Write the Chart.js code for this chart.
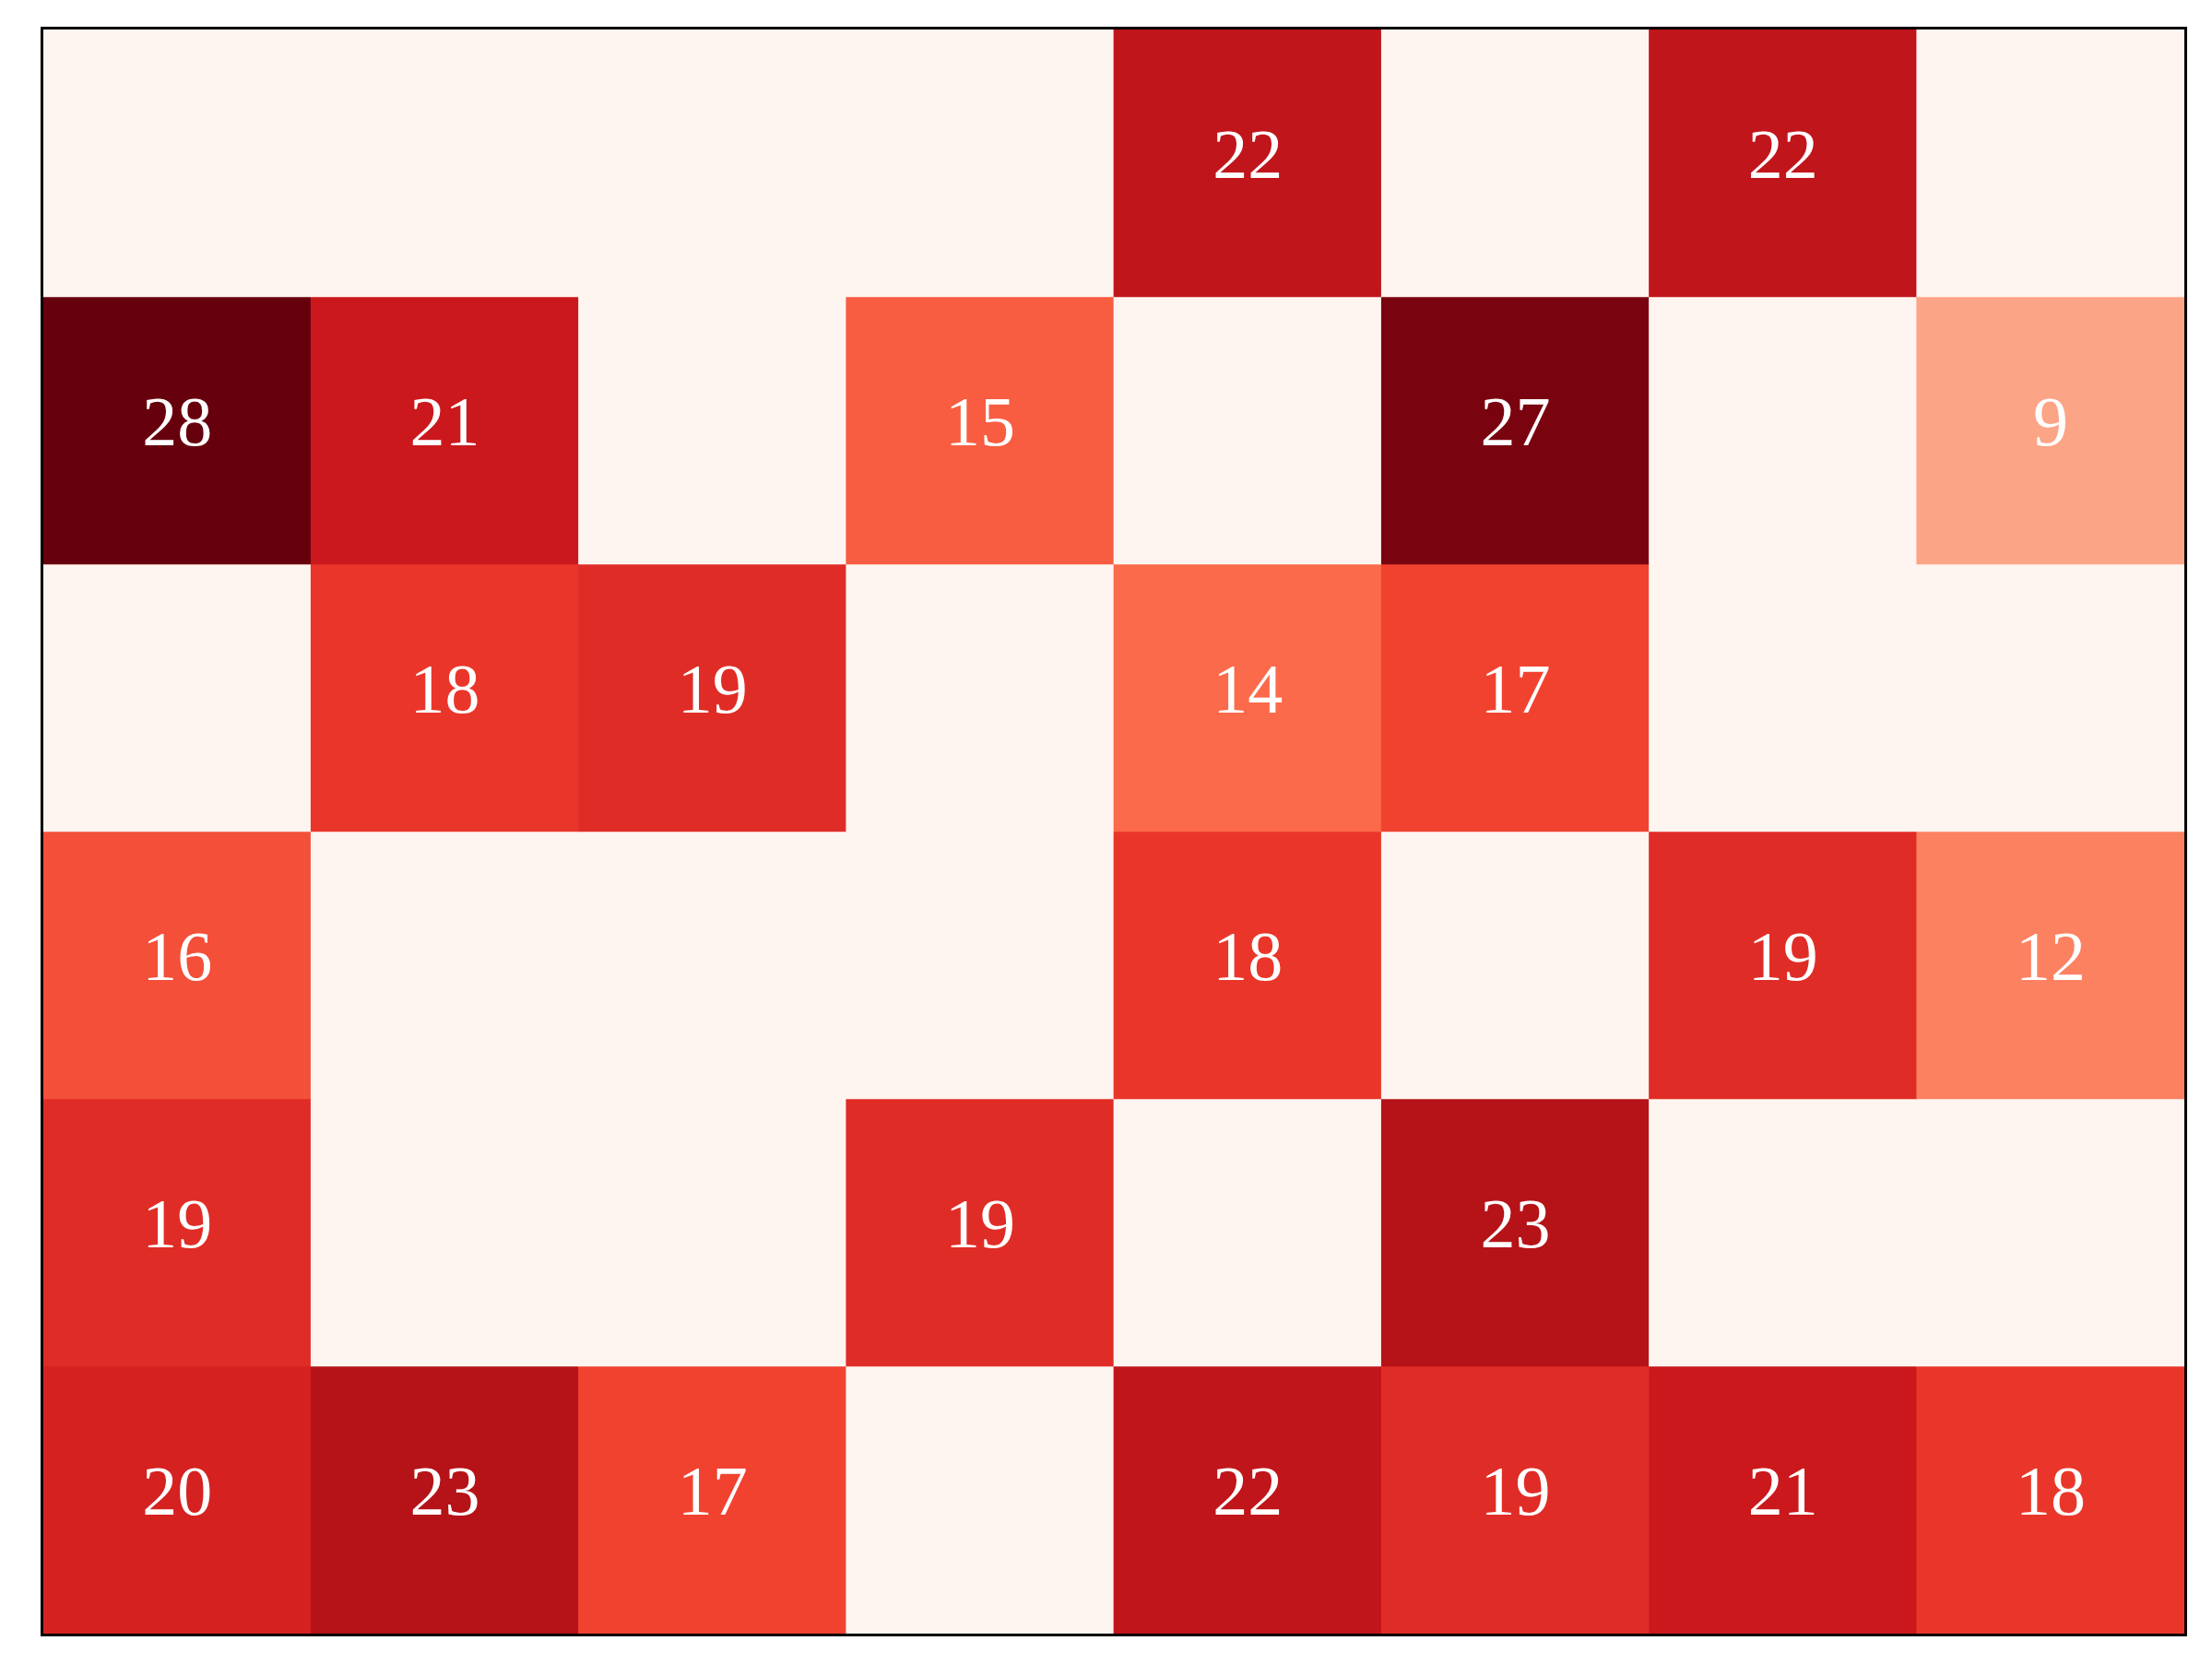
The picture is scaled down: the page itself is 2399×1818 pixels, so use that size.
<!DOCTYPE html>
<html>
<head>
<meta charset="utf-8">
<script src="https://cdn.jsdelivr.net/npm/chart.js@4"></script>
<style>
  body { margin: 0; background: #fff; }
  canvas { display: block; }
</style>
</head>
<body>
<canvas id="heatmap" width="2399" height="1818"></canvas>
<script>
// columns and rows of the grid, rows listed top to bottom
const columns = ['0', '1', '2', '3', '4', '5', '6', '7'];
const rows = ['0', '1', '2', '3', '4', '5'];

// cell values per row (0 = empty cell, no label)
const row0 = [0, 0, 0, 0, 22, 0, 22, 0];
const row1 = [28, 21, 0, 15, 0, 27, 0, 9];
const row2 = [0, 18, 19, 0, 14, 17, 0, 0];
const row3 = [16, 0, 0, 0, 18, 0, 19, 12];
const row4 = [19, 0, 0, 19, 0, 23, 0, 0];
const row5 = [20, 23, 17, 0, 22, 19, 21, 18];
const values = [row0, row1, row2, row3, row4, row5];

const vmin = 0;
const vmax = 28;

// matplotlib "Reds"
const reds = ['#fff5f0', '#fee0d2', '#fcbba1', '#fc9272', '#fb6a4a', '#ef3b2c', '#cb181d', '#a50f15', '#67000d'];

function hexRgb(h) {
  return [parseInt(h.slice(1, 3), 16), parseInt(h.slice(3, 5), 16), parseInt(h.slice(5, 7), 16)];
}

function redsColor(v) {
  let t = (v - vmin) / (vmax - vmin);
  t = Math.max(0, Math.min(1, t));
  const pos = t * (reds.length - 1);
  const i = Math.min(Math.floor(pos), reds.length - 2);
  const f = pos - i;
  const a = hexRgb(reds[i]);
  const b = hexRgb(reds[i + 1]);
  const c = a.map((x, k) => Math.round(x + (b[k] - x) * f));
  return 'rgb(' + c.join(',') + ')';
}

const datasets = rows.map((r, i) => ({
  label: r,
  data: columns.map(() => 1),
  cellValues: values[i],
  backgroundColor: values[i].map(redsColor),
  borderWidth: 0,
  barPercentage: 1,
  categoryPercentage: 1
}));

const cellLabels = {
  id: 'cellLabels',
  afterDatasetsDraw(chart) {
    const ctx = chart.ctx;
    ctx.save();
    ctx.fillStyle = '#ffffff';
    ctx.font = '76px "Liberation Serif", "Times New Roman", serif';
    ctx.textAlign = 'center';
    ctx.textBaseline = 'middle';
    chart.data.datasets.forEach((ds, i) => {
      const meta = chart.getDatasetMeta(i);
      meta.data.forEach((bar, j) => {
        const v = ds.cellValues[j];
        if (!v) return;
        const p = bar.getProps(['x', 'y', 'base'], true);
        ctx.fillText(String(v), p.x, (p.y + p.base) / 2 - 4);
      });
    });
    ctx.restore();
  }
};

const frame = {
  id: 'frame',
  afterDraw(chart) {
    const a = chart.chartArea;
    const ctx = chart.ctx;
    ctx.save();
    ctx.strokeStyle = '#000';
    ctx.lineWidth = 3;
    ctx.strokeRect(a.left - 1.5, a.top - 1.5, a.right - a.left + 3, a.bottom - a.top + 3);
    ctx.restore();
  }
};

function draw() {
  const ctx = document.getElementById('heatmap').getContext('2d');
  new Chart(ctx, {
    type: 'bar',
    data: { labels: columns, datasets: datasets },
    options: {
      responsive: false,
      animation: false,
      layout: { padding: { left: 47, top: 32, right: 30, bottom: 46 } },
      plugins: {
        legend: { display: false },
        tooltip: { enabled: false }
      },
      scales: {
        x: { stacked: true, display: false, offset: true },
        y: { stacked: true, display: false, min: 0, max: rows.length, reverse: true }
      }
    },
    plugins: [cellLabels, frame]
  });
}

document.fonts.load('76px "Liberation Serif"').then(draw, draw);
</script>
</body>
</html>
